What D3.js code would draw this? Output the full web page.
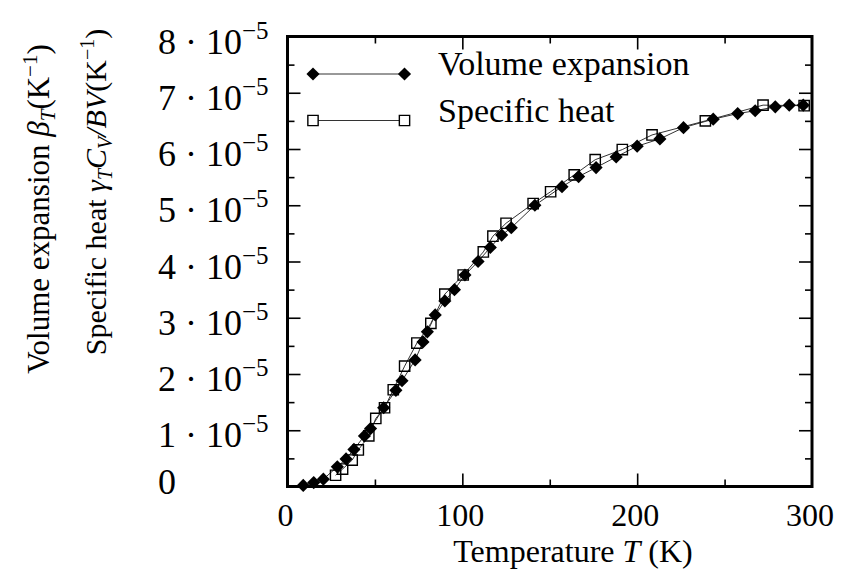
<!DOCTYPE html>
<html>
<head>
<meta charset="utf-8">
<script src="https://cdn.jsdelivr.net/npm/d3@7"></script>
<style>
  html, body { margin: 0; padding: 0; background: #fff; }
  svg { display: block; }
</style>
</head>
<body>
<div id="chart"></div>
<script>
// Volume expansion (filled diamonds), values in 1e-5 K^-1
const volT = [9, 15, 20.5, 28.5, 33.5, 38, 44, 47.5, 55, 62, 65.5, 73, 77.5, 80, 84.5, 90, 95.5, 101.5, 109, 116, 122.5, 128, 141.5, 157, 166.5, 176.5, 188, 200, 213, 226.5, 243.5, 257.5, 267.5, 279, 287, 295];
const volV = [0.02, 0.07, 0.13, 0.35, 0.49, 0.66, 0.90, 1.03, 1.40, 1.71, 1.88, 2.25, 2.57, 2.75, 3.05, 3.30, 3.50, 3.76, 4.00, 4.25, 4.47, 4.60, 5.00, 5.33, 5.51, 5.67, 5.86, 6.05, 6.18, 6.38, 6.53, 6.63, 6.68, 6.75, 6.78, 6.78];

// Specific heat (open squares), values in 1e-5 K^-1
const heatT = [27.5, 31.5, 37, 40.5, 46.5, 50.5, 55.5, 60.5, 67, 74, 82, 90, 100.5, 112, 117.5, 125, 140.5, 150.5, 164, 176, 191.5, 208.5, 239, 272, 295.5];
const heatV = [0.20, 0.31, 0.47, 0.65, 0.90, 1.21, 1.40, 1.72, 2.14, 2.55, 2.90, 3.42, 3.76, 4.17, 4.45, 4.68, 5.03, 5.24, 5.54, 5.81, 5.99, 6.25, 6.50, 6.78, 6.77];

const xTickLabels = [0, 100, 200, 300];
const yTickLabels = [0, 1, 2, 3, 4, 5, 6, 7, 8];
const legendNames = ["Volume expansion", "Specific heat"];

const W = 846, H = 571;
const svg = d3.select('#chart').append('svg')
    .attr('width', W)
    .attr('height', H)
    .attr('font-family', 'Liberation Serif, Times New Roman, Times, serif');

const x = d3.scaleLinear().domain([0, 300]).range([287.5, 812]);
const y = d3.scaleLinear().domain([0, 8]).range([486.5, 36.5]);

// ticks: long at majors, short at minors, all pointing inward
const majorLen = 13, minorLen = 7;
const xMajor = [100, 200], xMinor = [50, 150, 250];
const yMajor = d3.range(1, 8), yMinor = d3.range(0.5, 8, 1);

function tickAxis(axisFn, scale, values, len, transform) {
    const g = svg.append('g')
        .attr('transform', transform)
        .call(axisFn(scale).tickValues(values).tickSize(-len).tickFormat(''));
    g.select('.domain').remove();
    g.selectAll('.tick line').attr('stroke', '#000').attr('stroke-width', 1.6);
}
tickAxis(d3.axisBottom, x, xMajor, majorLen, `translate(0,${y(0)})`);
tickAxis(d3.axisBottom, x, xMinor, minorLen, `translate(0,${y(0)})`);
tickAxis(d3.axisTop, x, xMajor, majorLen, `translate(0,${y(8)})`);
tickAxis(d3.axisTop, x, xMinor, minorLen, `translate(0,${y(8)})`);
tickAxis(d3.axisLeft, y, yMajor, majorLen, `translate(${x(0)},0)`);
tickAxis(d3.axisLeft, y, yMinor, minorLen, `translate(${x(0)},0)`);
tickAxis(d3.axisRight, y, yMajor, majorLen, `translate(${x(300)},0)`);
tickAxis(d3.axisRight, y, yMinor, minorLen, `translate(${x(300)},0)`);

// x tick labels
svg.append('g').selectAll('text')
    .data(xTickLabels)
    .enter().append('text')
    .attr('x', d => x(d) - 2)
    .attr('y', 526)
    .attr('text-anchor', 'middle')
    .attr('font-size', 32)
    .text(d => d);

// y tick labels like "8 · 10^-5", left aligned in one column
const yl = svg.append('g').selectAll('text')
    .data(yTickLabels)
    .enter().append('text')
    .attr('x', 158)
    .attr('y', d => d === 0 ? y(d) + 7 : y(d) + 17)
    .attr('font-size', 36);
yl.each(function(d) {
    const t = d3.select(this);
    if (d === 0) { t.text('0'); return; }
    t.append('tspan').text(d + ' \u00b7 10');
    t.append('tspan').attr('dy', -15).attr('font-size', 25).text('\u22125');
});

// axis titles
svg.append('text')
    .attr('x', 573)
    .attr('y', 562)
    .attr('text-anchor', 'middle')
    .attr('font-size', 32)
    .call(t => {
        t.append('tspan').text('Temperature ');
        t.append('tspan').attr('font-style', 'italic').text('T');
        t.append('tspan').text(' (K)');
    });

svg.append('text')
    .attr('transform', 'translate(49,209) rotate(-90)')
    .attr('text-anchor', 'middle')
    .attr('font-size', 31)
    .call(t => {
        t.append('tspan').text('Volume expansion ');
        t.append('tspan').attr('font-style', 'italic').text('\u03b2');
        t.append('tspan').attr('font-style', 'italic').attr('font-size', 21).attr('dy', 6).text('T');
        t.append('tspan').attr('dy', -6).text('(K');
        t.append('tspan').attr('font-size', 21).attr('dy', -12).text('\u22121');
        t.append('tspan').attr('dy', 12).text(')');
    });

svg.append('text')
    .attr('transform', 'translate(106,192) rotate(-90)')
    .attr('text-anchor', 'middle')
    .attr('font-size', 30)
    .call(t => {
        t.append('tspan').text('Specific heat ');
        t.append('tspan').attr('font-style', 'italic').text('\u03b3');
        t.append('tspan').attr('font-style', 'italic').attr('font-size', 20).attr('dy', 6).text('T');
        t.append('tspan').attr('font-style', 'italic').attr('dy', -6).text('C');
        t.append('tspan').attr('font-style', 'italic').attr('font-size', 20).attr('dy', 6).text('V');
        t.append('tspan').attr('font-style', 'italic').attr('dy', -6).text('/BV');
        t.append('tspan').text('(K');
        t.append('tspan').attr('font-size', 20).attr('dy', -12).text('\u22121');
        t.append('tspan').attr('dy', 12).text(')');
    });

// series
const line = d3.line().x(d => x(d[0])).y(d => y(d[1]));
const volData = volT.map((t, i) => [t, volV[i]]);
const heatData = heatT.map((t, i) => [t, heatV[i]]);

const diamond = d3.symbol().type(d3.symbolDiamond2).size(110);
const square = d3.symbol().type(d3.symbolSquare2).size(135);

svg.append('path')
    .datum(heatData)
    .attr('d', line)
    .attr('fill', 'none')
    .attr('stroke', '#333')
    .attr('stroke-width', 1);
svg.append('path')
    .datum(volData)
    .attr('d', line)
    .attr('fill', 'none')
    .attr('stroke', '#333')
    .attr('stroke-width', 1);

svg.append('g').selectAll('path')
    .data(heatData)
    .enter().append('path')
    .attr('transform', d => `translate(${x(d[0])},${y(d[1])})`)
    .attr('d', square)
    .attr('fill', 'none')
    .attr('stroke', '#000')
    .attr('stroke-width', 1.4);

svg.append('g').selectAll('path')
    .data(volData)
    .enter().append('path')
    .attr('transform', d => `translate(${x(d[0])},${y(d[1])})`)
    .attr('d', diamond)
    .attr('fill', '#000');

// legend
const leg = svg.append('g');
const legY = [74, 120.5];
const legSym = [diamond, square];
legendNames.forEach((name, i) => {
    leg.append('line')
        .attr('x1', 313).attr('x2', 404.5)
        .attr('y1', legY[i]).attr('y2', legY[i])
        .attr('stroke', '#333').attr('stroke-width', 1);
    [313, 404.5].forEach(px => {
        leg.append('path')
            .attr('transform', `translate(${px},${legY[i]})`)
            .attr('d', legSym[i])
            .attr('fill', i === 0 ? '#000' : '#fff')
            .attr('stroke', i === 0 ? 'none' : '#000')
            .attr('stroke-width', 1.4);
    });
    leg.append('text')
        .attr('x', 438)
        .attr('y', legY[i] + 1)
        .attr('font-size', 34)
        .text(name);
});

// frame
svg.append('rect')
    .attr('x', x(0)).attr('y', y(8))
    .attr('width', x(300) - x(0)).attr('height', y(0) - y(8))
    .attr('fill', 'none')
    .attr('stroke', '#000')
    .attr('stroke-width', 3);
</script>
</body>
</html>
